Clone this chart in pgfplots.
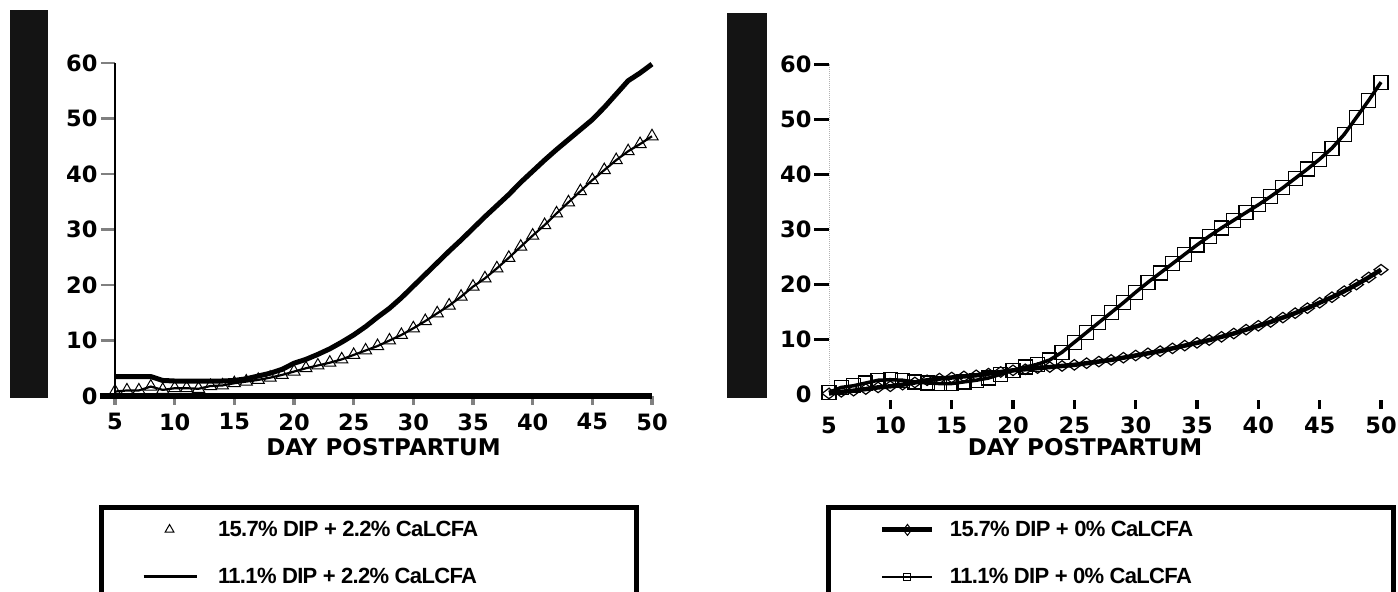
\documentclass[border=0pt]{standalone}
\usepackage{fontspec}
\setmainfont{Liberation Sans}
\newfontfamily\widefam{DejaVu Sans}
\newfontfamily\legfam{Liberation Sans}[LetterSpace=-3]
\usepackage{pgfplots}
\usepackage{pgfplotstable}
\pgfplotsset{compat=1.18}

% day, 11.1% DIP (line), 15.7% DIP (triangles) -- 2.2% CaLCFA
\pgfplotstableread{
day hi lo
5 3.5 0.8
6 3.5 1.0
7 3.5 1.0
8 3.5 1.7
9 2.8 1.1
10 2.7 1.4
11 2.7 1.4
12 2.7 1.3
13 2.7 1.8
14 2.7 1.9
15 2.8 2.3
16 3.1 2.6
17 3.6 2.9
18 4.1 3.3
19 4.8 3.8
20 5.9 4.4
21 6.6 5.0
22 7.5 5.5
23 8.5 6.0
24 9.7 6.6
25 11.0 7.4
26 12.5 8.2
27 14.2 9.0
28 15.8 10.0
29 17.7 11.0
30 19.8 12.2
31 21.9 13.5
32 24.0 14.9
33 26.1 16.3
34 28.1 17.9
35 30.2 19.7
36 32.3 21.2
37 34.3 23.0
38 36.3 24.9
39 38.5 26.9
40 40.5 28.9
41 42.5 30.8
42 44.4 32.9
43 46.2 34.9
44 48.0 36.9
45 49.8 38.9
46 52.0 40.7
47 54.4 42.5
48 56.8 44.1
49 58.2 45.4
50 59.8 46.8
}\leftdata

% day, 15.7% DIP (diamonds), 11.1% DIP (squares) -- 0% CaLCFA
\pgfplotstableread{
day dia sq
5 0.1 0.3
6 0.4 1.2
7 0.6 1.5
8 0.9 2.0
9 1.2 2.5
10 1.4 2.6
11 1.7 2.5
12 2.1 2.2
13 2.5 2.0
14 2.8 1.9
15 3.0 1.9
16 3.2 2.2
17 3.4 2.5
18 3.7 2.9
19 4.0 3.6
20 4.3 4.3
21 4.5 4.9
22 4.7 5.4
23 4.9 6.2
24 5.1 7.6
25 5.3 9.4
26 5.6 11.2
27 5.9 13.0
28 6.2 14.8
29 6.6 16.6
30 7.0 18.5
31 7.4 20.3
32 7.8 22.0
33 8.3 23.7
34 8.8 25.4
35 9.3 27.1
36 9.8 28.7
37 10.4 30.2
38 11.0 31.6
39 11.7 33.0
40 12.4 34.4
41 13.1 35.9
42 13.9 37.5
43 14.7 39.2
44 15.6 40.9
45 16.6 42.7
46 17.6 44.7
47 18.7 47.2
48 19.9 50.3
49 21.2 53.4
50 22.6 56.7
}\rightdata

\newcommand\tickfont{\widefam\fontsize{22.5bp}{26bp}\selectfont\bfseries}
\newcommand\labfont{\widefam\fontsize{23bp}{26bp}\selectfont\bfseries}
\newcommand\legfont{\legfam\fontsize{22bp}{26bp}\selectfont\bfseries}

\pgfplotsset{
  panel/.style={
    scale only axis,
    anchor=south west,
    xmin=5, xmax=50, ymax=60,
    clip=false,
    axis lines*=left,
    tick align=outside,
    major tick length=14bp,
    tick label style={font=\tickfont},
    label style={font=\labfont},
    /pgf/number format/assume math mode=true,
    ytick pos=left, xtick pos=bottom,
    legend cell align=left,
    legend style={draw=none, fill=none, anchor=north west, font=\legfont,
      inner sep=0pt, row sep=28bp,
      nodes={inner xsep=0pt, inner ysep=1bp}},
  },
  leg tri/.style={legend image code/.code={%
    \draw[##1, mark size=5bp] plot coordinates {(26bp,0bp)};}},
  leg line/.style={legend image code/.code={%
    \draw[##1, line width=3bp] (0bp,0bp) -- (53bp,0bp);}},
  leg mark/.style 2 args={legend image code/.code={%
    \draw[mark repeat=2, mark phase=2, ##1, mark size=#2, line width=#1,
      mark options={fill=white, line width=1bp, solid}]
      plot coordinates {(0bp,0bp) (25bp,0bp) (50bp,0bp)};}},
}

\begin{document}
\begin{tikzpicture}
\useasboundingbox (0,0) rectangle (1398bp,592bp);
\clip (0,0) rectangle (1398bp,592bp);
\fill[black!92] (10bp,194bp) rectangle (48bp,582bp);
\fill[black!92] (727bp,194bp) rectangle (767bp,579bp);

\begin{axis}[panel,
  at={(115bp,196bp)}, width=537bp, height=333bp,
  ymin=0,
  xtick={5,10,...,50}, ytick={0,10,...,60},
  x axis line style={line width=6bp, shorten <=-15bp},
  y axis line style={line width=2.5bp},
  ytick style={line width=2.5bp},
  xtick style={line width=3.5bp, /pgfplots/major tick length=9bp},
  xlabel={DAY POSTPARTUM},
  xlabel style={at={(axis description cs:0.5,-0.153)}, anchor=center},
  legend style={at={(axis description cs:0.05,-0.372)},
    /tikz/every odd column/.append style={column sep=20bp}},
]
\addplot[black, line width=2.2bp, forget plot] table[x=day, y=lo] {\leftdata};
\addplot[black, only marks, mark=triangle, mark size=7bp,
  mark options={line width=1bp}, leg tri]
  table[x=day, y=lo] {\leftdata};
\addlegendentry{15.7\% DIP + 2.2\% CaLCFA}
\addplot[black, line width=5bp, no marks, leg line]
  table[x=day, y=hi] {\leftdata};
\addlegendentry{11.1\% DIP + 2.2\% CaLCFA}
\end{axis}

\begin{axis}[panel,
  at={(829bp,192.5bp)}, width=552bp, height=335.5bp,
  ymin=-1,
  xtick={10,15,...,50}, extra x ticks={5},
  extra x tick style={tick style={draw=none}},
  ytick={10,20,...,60}, extra y ticks={0},
  extra y tick style={tick style={draw=none}},
  x axis line style={draw=none},
  y axis line style={gray!60, densely dotted, line width=1bp},
  ytick style={black, line width=3bp, /pgfplots/major tick length=15bp},
  xtick style={black, line width=3.5bp, /pgfplots/major tick length=9bp},
  xlabel={DAY POSTPARTUM},
  xlabel style={at={(axis description cs:0.464,-0.142)}, anchor=center},
  legend style={at={(axis description cs:0.092,-0.36)},
    /tikz/every odd column/.append style={column sep=15bp}},
]
\addplot[black, line width=4.5bp, mark=diamond, mark size=7bp,
  mark options={rotate=90, line width=1.2bp, solid}, leg mark={5bp}{5.5bp}]
  table[x=day, y=dia] {\rightdata};
\addlegendentry{15.7\% DIP + 0\% CaLCFA}
\addplot[black, line width=3.5bp, mark=square, mark size=7bp,
  mark options={line width=1.2bp, solid}, leg mark={2bp}{3.5bp}]
  table[x=day, y=sq] {\rightdata};
\addlegendentry{11.1\% DIP + 0\% CaLCFA}
\end{axis}

\draw[line width=5bp] (101bp,84bp) rectangle (636bp,-30bp);
\draw[line width=5bp] (828bp,84bp) rectangle (1393bp,-30bp);
\end{tikzpicture}
\end{document}
